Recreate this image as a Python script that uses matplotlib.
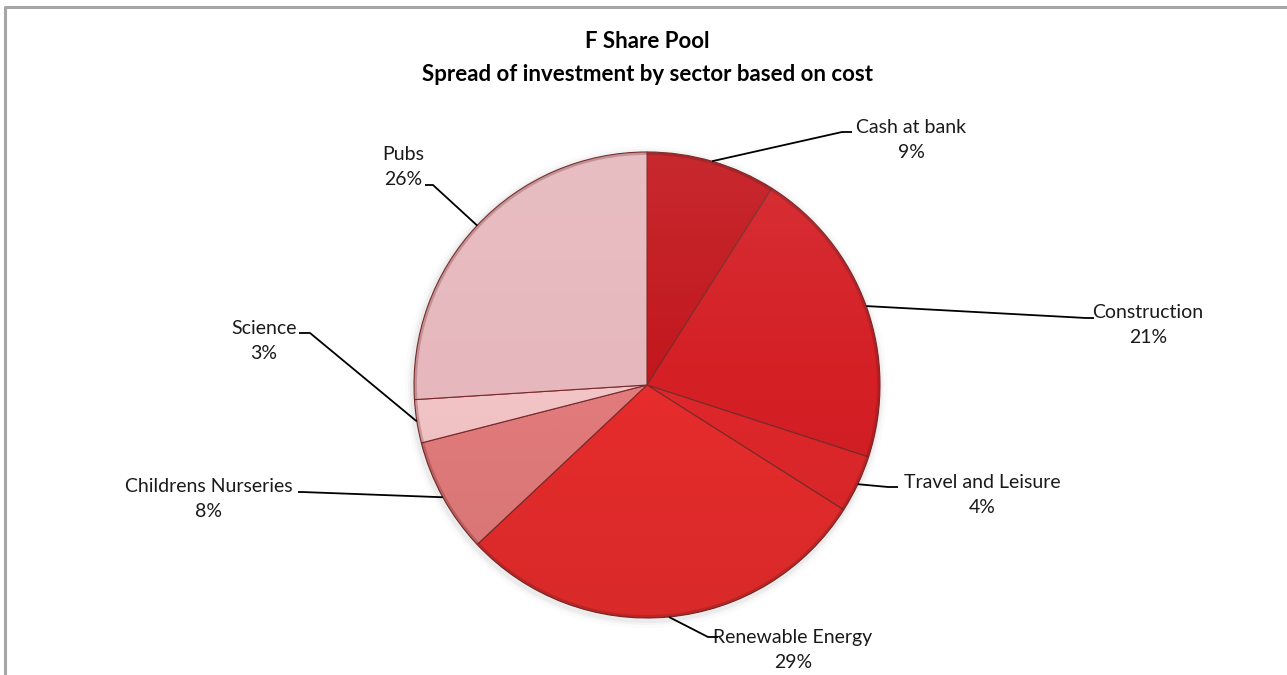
import numpy as np
import matplotlib
matplotlib.use("Agg")
import matplotlib.pyplot as plt
from matplotlib.patches import Circle

plt.rcParams['font.family'] = ['Lato', 'DejaVu Sans']

W, H = 1287, 675

sectors = ["Cash at bank", "Construction", "Travel and Leisure", "Renewable Energy",
           "Childrens Nurseries", "Science", "Pubs"]
shares = [9, 21, 4, 29, 8, 3, 26]
colors = ["#C2171D", "#D41F25", "#DE272A", "#E62C2C", "#E27B7B", "#F2C4C6", "#E6B8BD"]

# label placement in pixel coords (y down): text centre x, first baseline y, elbow point, stub end
label_pos = {
    "Cash at bank":        ((911, 133), (842, 132), (852, 132)),
    "Construction":        ((1148, 318), (1086, 318), (1094, 318)),
    "Travel and Leisure":  ((982, 488), (888, 487), (898, 487)),
    "Renewable Energy":    ((793, 643), (708, 637), (718, 637)),
    "Childrens Nurseries": ((209, 492), (302, 492), (298, 492)),
    "Science":             ((264, 334), (310, 333), (299, 333)),
    "Pubs":                ((403, 160), (433, 185), (425, 185)),
}

cx, cy, R = 647, H - 385, 233


def py(y):
    # flip from top-down pixel rows to axis coords
    return H - y


fig = plt.figure(figsize=(W / 100, H / 100), dpi=100)
ax = fig.add_axes([0, 0, 1, 1])

# soft shadow around the pie
for k, a in [(8, 0.03), (5, 0.05), (3, 0.07)]:
    ax.add_patch(Circle((cx - 1, cy - 2), R + k, color="#808080", alpha=a, lw=0, zorder=1))

wedges, _ = ax.pie(shares, colors=colors, startangle=90, counterclock=False,
                   center=(cx, cy), radius=R,
                   wedgeprops=dict(edgecolor="#7a2a2a", linewidth=0.8, zorder=2))

# subtle vertical shading over the pie
grad = np.linspace(1, 0, 256).reshape(-1, 1)
shade = np.zeros((256, 1, 4))
shade[..., :3] = np.where(grad[..., None] > 0.5, 1.0, 0.0)
shade[..., 3] = np.where(grad > 0.5, (grad - 0.5) * 0.16, (0.5 - grad) * 0.12)
im = ax.imshow(shade, extent=(cx - R, cx + R, cy - R, cy + R), origin="upper",
               aspect="auto", zorder=3, interpolation="bilinear")
clip = Circle((cx, cy), R, transform=ax.transData)
im.set_clip_path(clip)

# darker rim
ax.add_patch(Circle((cx, cy), R - 1.5, fill=False, ec="#5a1a1a", lw=2.0, alpha=0.25, zorder=4))

for w, name, val in zip(wedges, sectors, shares):
    th = np.deg2rad((w.theta1 + w.theta2) / 2)
    ax0, ay0 = cx + R * np.cos(th), cy + R * np.sin(th)
    (tx, tb), (ex, ey), (sx, sy) = label_pos[name]
    ax.plot([ax0, ex, sx], [ay0, py(ey), py(sy)], color="black", lw=1.3,
            solid_capstyle="butt", zorder=5)
    ax.text(tx, py(tb), name, ha="center", va="baseline", fontsize=14, color="#1a1a1a")
    ax.text(tx, py(tb + 25), f"{val}%", ha="center", va="baseline", fontsize=14, color="#1a1a1a")

ax.text(647, py(48), "F Share Pool", ha="center", va="baseline", fontsize=16,
        fontweight="bold", color="black")
ax.text(648, py(81), "Spread of investment by sector based on cost", ha="center",
        va="baseline", fontsize=16, fontweight="bold", color="black")

# chart frame (runs off the right and bottom)
ax.plot([5, 5, W + 5], [-5, py(7), py(7)], color="#a6a6a6", lw=2.2, zorder=6)

ax.set_xlim(0, W)
ax.set_ylim(0, H)
ax.set_aspect("equal")
ax.axis("off")

fig.savefig("out.png", dpi=100, facecolor="white")
